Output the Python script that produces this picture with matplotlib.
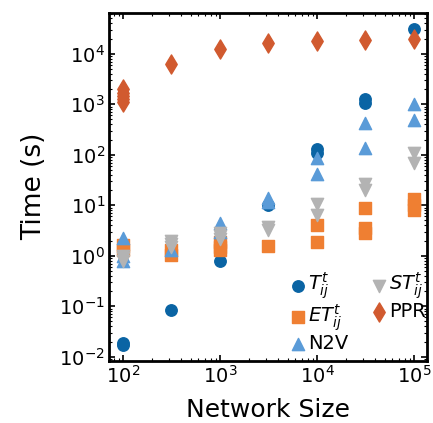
import numpy as np
import matplotlib
matplotlib.use("Agg")
import matplotlib.pyplot as plt
from matplotlib.ticker import LogLocator, NullFormatter

# network sizes
sizes = [100, 316, 1000, 3162, 10000, 31623, 100000]

# T_ij^t (dark blue circles)
t_x = [100, 100, 316, 1000, 3162, 10000, 10000, 31623, 31623, 100000]
t_y = [0.017, 0.019, 0.083, 0.78, 10, 130, 108, 1250, 1080, 31000]

# ET_ij^t (orange squares)
et_x = [100, 100, 316, 316, 1000, 1000, 1000, 3162, 10000, 10000, 31623, 31623, 31623, 100000, 100000, 100000]
et_y = [1.6, 1.3, 1.3, 1.05, 1.9, 1.5, 1.3, 1.57, 4.0, 1.9, 8.7, 3.5, 2.8, 13, 10, 8]

# N2V (light blue triangles)
n2v_x = [100, 100, 100, 316, 1000, 1000, 3162, 3162, 10000, 10000, 31623, 31623, 100000, 100000]
n2v_y = [2.2, 1.0, 0.77, 1.3, 4.4, 3.0, 13.7, 11.5, 87, 42, 420, 137, 1000, 490]

# ST_ij^t (grey down triangles)
st_x = [100, 100, 100, 316, 316, 316, 1000, 1000, 1000, 3162, 3162, 10000, 10000, 31623, 31623, 100000, 100000]
st_y = [1.0, 0.9, 0.8, 2.0, 1.7, 1.5, 2.8, 2.5, 2.1, 3.7, 3.2, 10.5, 6.5, 26, 20, 110, 70]

# PPR (red diamonds)
ppr_x = [100, 100, 100, 100, 100, 316, 1000, 3162, 10000, 31623, 100000]
ppr_y = [2000, 1700, 1450, 1250, 1100, 6400, 12500, 16500, 18000, 18500, 19500]

plt.rcParams['font.family'] = 'DejaVu Sans'
fig, ax = plt.subplots(figsize=(4.33, 4.23), dpi=100)
fig.subplots_adjust(left=0.252, right=0.986, top=0.970, bottom=0.147)

ax.scatter(t_x, t_y, marker='o', s=68, color='#0a64a4', label=r'$T_{ij}^t$', zorder=3)
ax.scatter(et_x, et_y, marker='s', s=68, color='#ef7f32', label=r'$ET_{ij}^t$', zorder=3)
ax.scatter(n2v_x, n2v_y, marker='^', s=78, color='#5a9bd8', label='N2V', zorder=3)
ax.scatter(st_x, st_y, marker='v', s=78, color='#b3b3b3', label=r'$ST_{ij}^t$', zorder=3)
ax.scatter(ppr_x, ppr_y, marker='d', s=95, color='#d15a2f', label='PPR', zorder=3)

ax.set_xscale('log')
ax.set_yscale('log')
ax.set_xlim(72, 136000)
ax.set_ylim(0.0083, 65000)

ax.yaxis.set_major_locator(LogLocator(base=10, numticks=12))
ax.yaxis.set_minor_locator(LogLocator(base=10, subs=np.arange(2, 10), numticks=12))
ax.yaxis.set_minor_formatter(NullFormatter())

ax.tick_params(which='both', direction='in', top=True, right=True, labelsize=14, pad=3)
ax.tick_params(which='major', length=4, width=1.2)
ax.tick_params(which='minor', length=2.5, width=0.8)
for sp in ax.spines.values():
    sp.set_linewidth(2)

ax.set_xlabel('Network Size', fontsize=18, labelpad=8)
ax.set_ylabel('Time (s)', fontsize=19, labelpad=9)

ax.legend(loc='lower right', bbox_to_anchor=(1.02, 0.0), ncol=2, frameon=False, fontsize=14,
          handletextpad=0.0, columnspacing=1.1, labelspacing=0.05,
          borderaxespad=0.0, handlelength=1.0, markerscale=1.0)

fig.savefig('out.png', dpi=100)
